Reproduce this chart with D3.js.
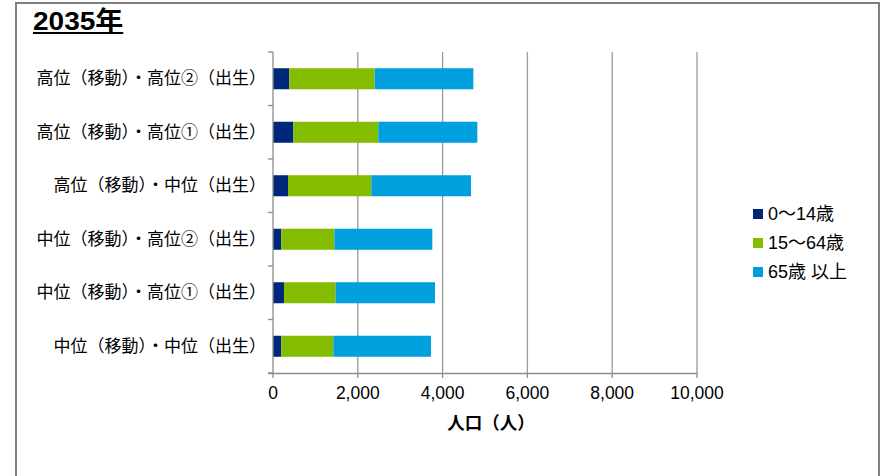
<!DOCTYPE html>
<html>
<head>
<meta charset="utf-8">
<script src="https://cdn.jsdelivr.net/npm/d3@7"></script>
<style>
  html, body { margin: 0; padding: 0; background: #fff; }
  svg { display: block; }
  text { font-family: "Liberation Sans", Arial, "Noto Sans CJK JP", sans-serif; fill: #000; }
</style>
</head>
<body>
<svg id="chart" width="883" height="476"></svg>
<script>
const title = "2035年";
const categories = [
  "高位（移動）・高位②（出生）",
  "高位（移動）・高位①（出生）",
  "高位（移動）・中位（出生）",
  "中位（移動）・高位②（出生）",
  "中位（移動）・高位①（出生）",
  "中位（移動）・中位（出生）"
];
const seriesNames = ["0～14歳", "15～64歳", "65歳 以上"];
const age0_14  = [385, 479, 354, 197, 259, 197];
const age15_64 = [2014, 2005, 1965, 1250, 1219, 1226];
const age65    = [2326, 2335, 2351, 2311, 2343, 2303];
const xTicks = [0, 2000, 4000, 6000, 8000, 10000];
const xTitle = "人口（人）";
const colors = ["#00287a", "#84bc00", "#00a0df"];

const svg = d3.select("#chart");

// frame
svg.append("path")
  .attr("d", "M16,476 V3 H879 V476")
  .attr("fill", "none").attr("stroke", "#7f7f7f").attr("stroke-width", 2);

// title
const t = svg.append("text").attr("x", 33).attr("y", 30)
  .attr("font-size", 28).attr("font-weight", "bold")
  .attr("transform", "translate(33,30) scale(1,0.92) translate(-33,-30)")
  .text(title);
const tb = t.node().getBBox();
svg.append("line").attr("x1", tb.x).attr("x2", tb.x + tb.width)
  .attr("y1", 33).attr("y2", 33).attr("stroke", "#000").attr("stroke-width", 2);

const x = d3.scaleLinear().domain([0, 10000]).range([273, 697]);
const y = d3.scaleBand().domain(categories).range([52, 373])
  .paddingInner(0.607).paddingOuter(0.3035);

// gridlines
svg.append("g").selectAll("line").data(xTicks.filter(d => d > 0)).join("line")
  .attr("x1", d => x(d)).attr("x2", d => x(d))
  .attr("y1", 52).attr("y2", 373)
  .attr("stroke", "#9a9a9a").attr("stroke-width", 1.3);

// stacked data
const rows = categories.map((c, i) => ({ cat: c, s0: age0_14[i], s1: age15_64[i], s2: age65[i] }));
const stack = d3.stack().keys(["s0", "s1", "s2"])(rows);

svg.append("g").selectAll("g").data(stack).join("g")
  .attr("fill", (d, i) => colors[i])
  .selectAll("rect").data(d => d).join("rect")
  .attr("x", d => x(d[0]))
  .attr("width", d => x(d[1]) - x(d[0]))
  .attr("y", d => y(d.data.cat))
  .attr("height", y.bandwidth());

// y axis
const yAxisG = svg.append("g");
yAxisG.append("line").attr("x1", 273).attr("x2", 273).attr("y1", 52).attr("y2", 373)
  .attr("stroke", "#8c8c8c").attr("stroke-width", 1.3);
const step = y.step();
const bounds = d3.range(categories.length + 1).map(i => 52 + i * step);
yAxisG.selectAll("line.tk").data(bounds).join("line").attr("class", "tk")
  .attr("x1", 268).attr("x2", 273).attr("y1", d => d).attr("y2", d => d)
  .attr("stroke", "#8c8c8c").attr("stroke-width", 1.3);
yAxisG.selectAll("text").data(categories).join("text")
  .attr("x", 266).attr("y", d => y(d) + y.bandwidth() / 2)
  .attr("text-anchor", "end").attr("dominant-baseline", "central")
  .attr("font-size", 17).text(d => d);

// x axis
const xAxisG = svg.append("g");
xAxisG.append("line").attr("x1", 268).attr("x2", 697).attr("y1", 373.5).attr("y2", 373.5)
  .attr("stroke", "#8c8c8c").attr("stroke-width", 1.3);
xAxisG.selectAll("line.tk").data(xTicks).join("line").attr("class", "tk")
  .attr("x1", d => x(d)).attr("x2", d => x(d)).attr("y1", 373).attr("y2", 378)
  .attr("stroke", "#8c8c8c").attr("stroke-width", 1.3);
const fmt = d3.format(",");
xAxisG.selectAll("text").data(xTicks).join("text")
  .attr("x", d => x(d)).attr("y", 393)
  .attr("text-anchor", "middle").attr("dominant-baseline", "central")
  .attr("font-size", 17.5).text(d => fmt(d));
svg.append("text").attr("x", (x(0) + x(10000)) / 2 + 6).attr("y", 423)
  .attr("text-anchor", "middle").attr("dominant-baseline", "central")
  .attr("font-size", 17.5).attr("font-weight", "bold").text(xTitle);

// legend
const lg = svg.append("g").selectAll("g").data(seriesNames).join("g")
  .attr("transform", (d, i) => `translate(753, ${214 + i * 29})`);
lg.append("rect").attr("x", 0).attr("y", -5).attr("width", 10).attr("height", 10)
  .attr("fill", (d, i) => colors[i]);
lg.append("text").attr("x", 15).attr("y", 0).attr("dominant-baseline", "central")
  .attr("font-size", 18).text(d => d);
</script>
</body>
</html>
